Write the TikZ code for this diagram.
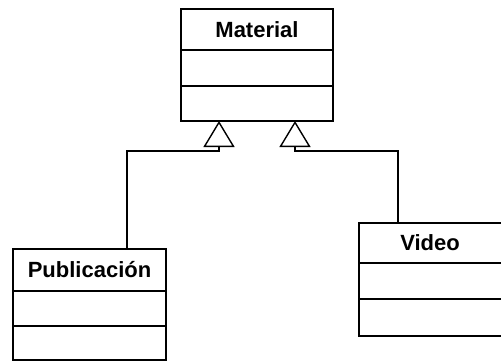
\documentclass[tikz,border=0pt]{standalone}
\usepackage{fontspec}
\setmainfont{Liberation Sans}
\usetikzlibrary{positioning,arrows.meta}
\begin{document}
\begin{tikzpicture}[x=1pt, y=-1pt, line width=1.4pt,
  classhead/.style={draw, rectangle, inner sep=0pt, outer sep=0pt, anchor=north west,
    font=\fontsize{22}{26}\selectfont\bfseries},
  compart/.style={draw, rectangle, inner sep=0pt, outer sep=0pt, below=0pt of #1},
  gen/.style={-{Triangle[open, length=26pt, width=31pt, line width=1.4pt]}}]
\clip (0,0) rectangle (501,362);
\useasboundingbox (0,0) rectangle (501,362);
\node[classhead, minimum width=152pt, minimum height=41pt] (mathead) at (181,9){Material};
\node[compart=mathead, minimum width=152pt, minimum height=36pt] (matattr){};
\node[compart=matattr, minimum width=152pt, minimum height=35pt] (matops){};
\node[classhead, minimum width=153pt, minimum height=42pt] (pubhead) at (13,249){Publicación};
\node[compart=pubhead, minimum width=153pt, minimum height=35pt] (pubattr){};
\node[compart=pubattr, minimum width=153pt, minimum height=34pt] (pubops){};
\node[classhead, minimum width=150pt, minimum height=40pt] (vidhead) at (359,223){\hspace*{-8pt}Video};
\node[compart=vidhead, minimum width=150pt, minimum height=36pt] (vidattr){};
\node[compart=vidattr, minimum width=150pt, minimum height=37pt] (vidops){};
\coordinate (lbend) at (219,151);
\coordinate (rbend) at (295,151);
\draw[gen] ([xshift=37.5pt]pubhead.north) |- (lbend) -- (lbend |- matops.south);
\draw[gen] ([xshift=-36pt]vidhead.north) |- (rbend) -- (rbend |- matops.south);
\end{tikzpicture}
\end{document}
